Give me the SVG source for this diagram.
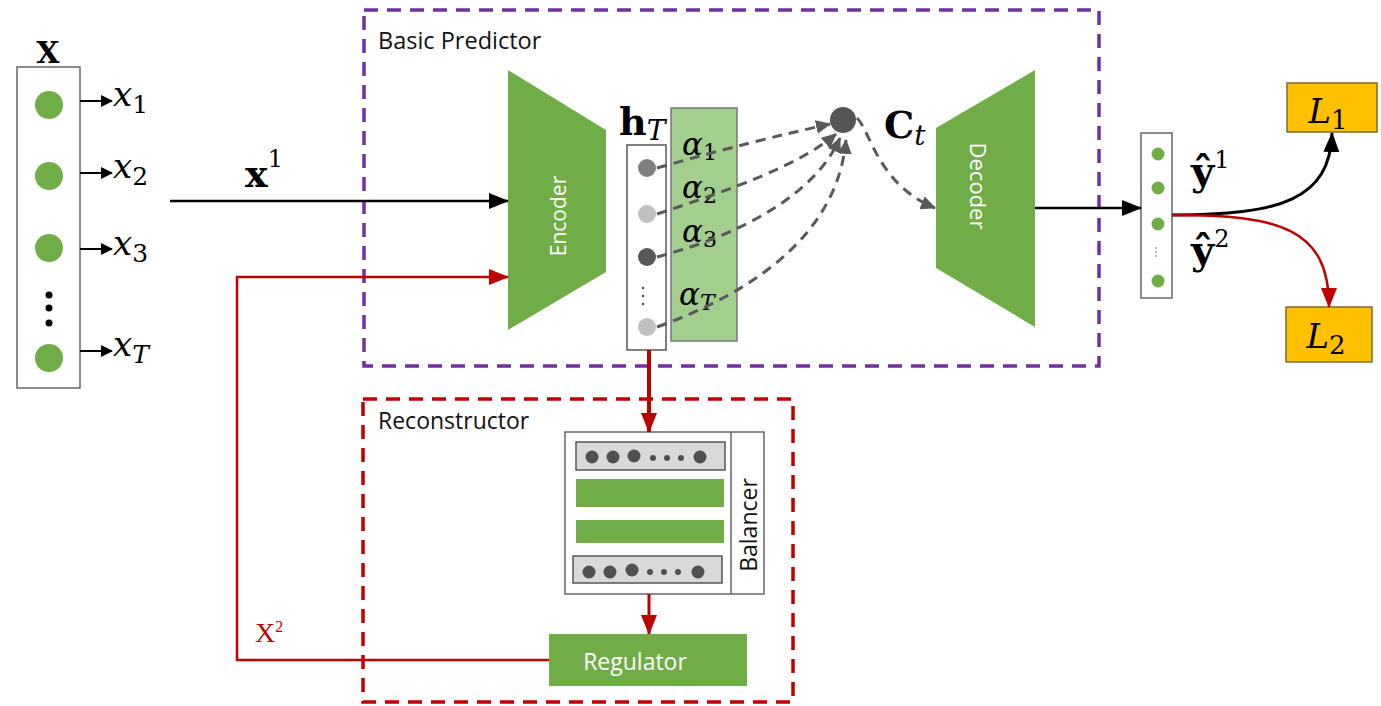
<svg xmlns="http://www.w3.org/2000/svg" width="1381" height="706" viewBox="0 0 1381 706">
<style>
.sans{font-family:"Open Sans","Liberation Sans",sans-serif}
.it{font-style:italic;font-family:"DejaVu Serif","Liberation Serif",serif}
.bold{font-weight:bold;font-family:"DejaVu Serif","Liberation Serif",serif}
.green{fill:#70AD47}
.dash{fill:none;stroke:#595959;stroke-width:3;stroke-dasharray:10,7}
</style>
<defs>
<marker id="ab" markerWidth="20" markerHeight="16" refX="19" refY="8" orient="auto" markerUnits="userSpaceOnUse"><path d="M0,0 L20,8 L0,16 Z" fill="#000"/></marker>
<marker id="abs" markerWidth="12" markerHeight="12" refX="11" refY="6" orient="auto" markerUnits="userSpaceOnUse"><path d="M0,0 L12,6 L0,12 Z" fill="#000"/></marker>
<marker id="ar" markerWidth="20" markerHeight="16" refX="19" refY="8" orient="auto" markerUnits="userSpaceOnUse"><path d="M0,0 L20,8 L0,16 Z" fill="#C00000"/></marker>
<marker id="ag" markerWidth="15" markerHeight="14" refX="14" refY="7" orient="auto" markerUnits="userSpaceOnUse"><path d="M0,0 L15,7 L0,14 Z" fill="#595959"/></marker>
</defs>

<!-- containers -->
<g id="basic-predictor">
<rect x="364" y="10" width="735" height="356" fill="none" stroke="#7030A0" stroke-width="3.5" stroke-dasharray="14,9"/>
<text x="378" y="49" class="sans" font-size="23.5" fill="#111">Basic Predictor</text>
</g>
<g id="reconstructor">
<rect x="363" y="399" width="430" height="303" fill="none" stroke="#C00000" stroke-width="3.5" stroke-dasharray="14,9"/>
<text x="378" y="429" class="sans" font-size="23" fill="#111">Reconstructor</text>
</g>

<!-- input X -->
<g id="input-x">
<text x="48" y="63" class="bold" font-size="30" text-anchor="middle">X</text>
<rect x="17" y="67" width="63" height="321" fill="#fff" stroke="#666" stroke-width="1.5"/>
<circle cx="49" cy="105" r="14" class="green"/>
<circle cx="49" cy="176" r="14" class="green"/>
<circle cx="49" cy="248" r="14" class="green"/>
<circle cx="49" cy="358" r="14" class="green"/>
<circle cx="49" cy="295" r="3.5" fill="#000"/>
<circle cx="49" cy="308" r="3.5" fill="#000"/>
<circle cx="49" cy="323" r="3.5" fill="#000"/>
<line x1="80" y1="101" x2="112" y2="101" stroke="#000" stroke-width="2" marker-end="url(#abs)"/>
<line x1="80" y1="173" x2="112" y2="173" stroke="#000" stroke-width="2" marker-end="url(#abs)"/>
<line x1="80" y1="249" x2="112" y2="249" stroke="#000" stroke-width="2" marker-end="url(#abs)"/>
<line x1="80" y1="351" x2="112" y2="351" stroke="#000" stroke-width="2" marker-end="url(#abs)"/>
<text x="113" y="106" class="it" font-size="34">x<tspan font-style="normal" font-size="25" dy="7">1</tspan></text>
<text x="113" y="178" class="it" font-size="34">x<tspan font-style="normal" font-size="25" dy="7">2</tspan></text>
<text x="113" y="255" class="it" font-size="34">x<tspan font-style="normal" font-size="25" dy="7">3</tspan></text>
<text x="113" y="356" class="it" font-size="34">x<tspan font-size="25" dy="7">T</tspan></text>
</g>

<!-- encoder -->
<g id="encoder">
<polygon points="508,70 606,130 606,272 508,330" class="green"/>
<text transform="translate(566,216) rotate(-90)" class="sans" font-size="21" fill="#fff" text-anchor="middle">Encoder</text>
</g>

<!-- hidden states + attention weights -->
<g id="attention-weights">
<rect x="671" y="108" width="66" height="233" fill="#A2CF8E" stroke="#777" stroke-width="1.5"/>
<text x="682" y="155" class="it" font-size="31">α<tspan font-style="normal" font-size="22" dy="5">1</tspan></text>
<text x="682" y="198" class="it" font-size="31">α<tspan font-style="normal" font-size="22" dy="5">2</tspan></text>
<text x="682" y="242" class="it" font-size="31">α<tspan font-style="normal" font-size="22" dy="5">3</tspan></text>
<text x="679" y="305" class="it" font-size="31">α<tspan font-size="22" dy="5">T</tspan></text>
</g>
<g id="hidden-states">
<text x="619" y="135" class="bold" font-size="38">h<tspan font-weight="normal" font-style="italic" font-size="28" dy="5">T</tspan></text>
<rect x="627" y="145" width="39" height="205" fill="#fff" stroke="#555" stroke-width="1.5"/>
<circle cx="647" cy="168" r="9" fill="#808080"/>
<circle cx="647" cy="214" r="9" fill="#C0C0C0"/>
<circle cx="647" cy="257" r="9" fill="#585858"/>
<circle cx="647" cy="327" r="9" fill="#C0C0C0"/>
<circle cx="643" cy="288" r="1.2" fill="#444"/>
<circle cx="643" cy="296" r="1.2" fill="#444"/>
<circle cx="643" cy="304" r="1.2" fill="#444"/>
</g>

<!-- context node -->
<g id="context">
<circle cx="843" cy="120" r="13" fill="#555"/>
<text x="884" y="138" class="bold" font-size="38">C<tspan font-weight="normal" font-style="italic" font-size="28" dy="7">t</tspan></text>
</g>

<!-- decoder -->
<g id="decoder">
<polygon points="936,128 1035,70 1035,327 936,268" class="green"/>
<text transform="translate(970,186) rotate(90)" class="sans" font-size="22" fill="#fff" text-anchor="middle">Decoder</text>
</g>

<!-- output -->
<g id="output">
<rect x="1141" y="133" width="31" height="165" fill="#fff" stroke="#666" stroke-width="1.5"/>
<circle cx="1158" cy="154" r="6.5" class="green"/>
<circle cx="1158" cy="188" r="6.5" class="green"/>
<circle cx="1158" cy="224" r="6.5" class="green"/>
<circle cx="1158" cy="281" r="6.5" class="green"/>
<circle cx="1156" cy="248" r="0.8" fill="#666"/>
<circle cx="1156" cy="252" r="0.8" fill="#666"/>
<circle cx="1156" cy="256" r="0.8" fill="#666"/>
<text x="1191" y="185" class="bold" font-size="40">ŷ<tspan font-weight="normal" font-size="24" dy="-17">1</tspan></text>
<text x="1191" y="264" class="bold" font-size="40">ŷ<tspan font-weight="normal" font-size="24" dy="-17">2</tspan></text>
</g>

<g id="loss-1">
<rect x="1287" y="83" width="90" height="49" fill="#FFC000" stroke="#7F6A30" stroke-width="1.5"/>
<text x="1328" y="123" class="it" font-size="34" text-anchor="middle">L<tspan font-style="normal" font-size="26" dy="6">1</tspan></text>
</g>
<g id="loss-2">
<rect x="1286" y="307" width="86" height="55" fill="#FFC000" stroke="#7F6A30" stroke-width="1.5"/>
<text x="1326" y="348" class="it" font-size="34" text-anchor="middle">L<tspan font-style="normal" font-size="26" dy="6">2</tspan></text>
</g>

<!-- balancer -->
<g id="balancer">
<rect x="565" y="432" width="199" height="162" fill="#fff" stroke="#666" stroke-width="1.5"/>
<line x1="731" y1="432" x2="731" y2="594" stroke="#666" stroke-width="1.5"/>
<text transform="translate(757,525) rotate(-90)" class="sans" font-size="23" fill="#111" text-anchor="middle">Balancer</text>
<rect x="576" y="442" width="149" height="28" fill="#D9D9D9" stroke="#555" stroke-width="1.5"/>
<rect x="576" y="479" width="148" height="28" class="green"/>
<rect x="576" y="520" width="148" height="23" class="green"/>
<rect x="573" y="556" width="149" height="27" fill="#D9D9D9" stroke="#555" stroke-width="1.5"/>
<g fill="#505050">
<circle cx="592" cy="457" r="6.5"/><circle cx="613" cy="457" r="6.5"/><circle cx="634" cy="456" r="6.5"/>
<circle cx="653" cy="458" r="3"/><circle cx="667" cy="458" r="3"/><circle cx="681" cy="458" r="3"/>
<circle cx="700" cy="457" r="6.5"/>
<circle cx="589" cy="572" r="6.5"/><circle cx="610" cy="572" r="6.5"/><circle cx="632" cy="570" r="6.5"/>
<circle cx="650" cy="572" r="3"/><circle cx="664" cy="572" r="3"/><circle cx="678" cy="572" r="3"/>
<circle cx="698" cy="572" r="6.5"/>
</g>
</g>

<!-- regulator -->
<g id="regulator">
<rect x="549" y="634" width="198" height="52" class="green"/>
<text x="635" y="670" class="sans" font-size="23" fill="#fff" text-anchor="middle">Regulator</text>
</g>

<!-- connectors -->
<g id="connectors">
<line x1="170" y1="201" x2="508" y2="201" stroke="#000" stroke-width="2.5" marker-end="url(#ab)"/>
<text x="245" y="187" class="bold" font-size="38">x<tspan font-weight="normal" font-size="24" dy="-20">1</tspan></text>
<polyline points="549,660 237,660 237,277 508,277" fill="none" stroke="#C00000" stroke-width="2.5" marker-end="url(#ar)"/>
<text x="255" y="642" font-family="Liberation Serif,serif" font-size="28" fill="#C00000">X<tspan font-size="16" dy="-10">2</tspan></text>
<line x1="649" y1="350" x2="649" y2="432" stroke="#C00000" stroke-width="4" marker-end="url(#ar)"/>
<line x1="649" y1="594" x2="649" y2="634" stroke="#C00000" stroke-width="3" marker-end="url(#ar)"/>
<path d="M657,168 C720,150 780,135 830,124" class="dash" marker-end="url(#ag)"/>
<path d="M657,214 C730,190 800,165 836,134" class="dash" marker-end="url(#ag)"/>
<path d="M657,257 C740,235 815,195 840,138" class="dash" marker-end="url(#ag)"/>
<path d="M657,327 C760,290 838,230 846,140" class="dash" marker-end="url(#ag)"/>
<path d="M857,118 C870,130 878,185 935,208" class="dash" marker-end="url(#ag)"/>
<line x1="1035" y1="208" x2="1141" y2="208" stroke="#000" stroke-width="2.5" marker-end="url(#ab)"/>
<path d="M1172,215 C1280,215 1330,200 1332,133" fill="none" stroke="#000" stroke-width="3" marker-end="url(#ab)"/>
<path d="M1172,215 C1280,215 1329,228 1329,307" fill="none" stroke="#C00000" stroke-width="2.5" marker-end="url(#ar)"/>
</g>
</svg>
